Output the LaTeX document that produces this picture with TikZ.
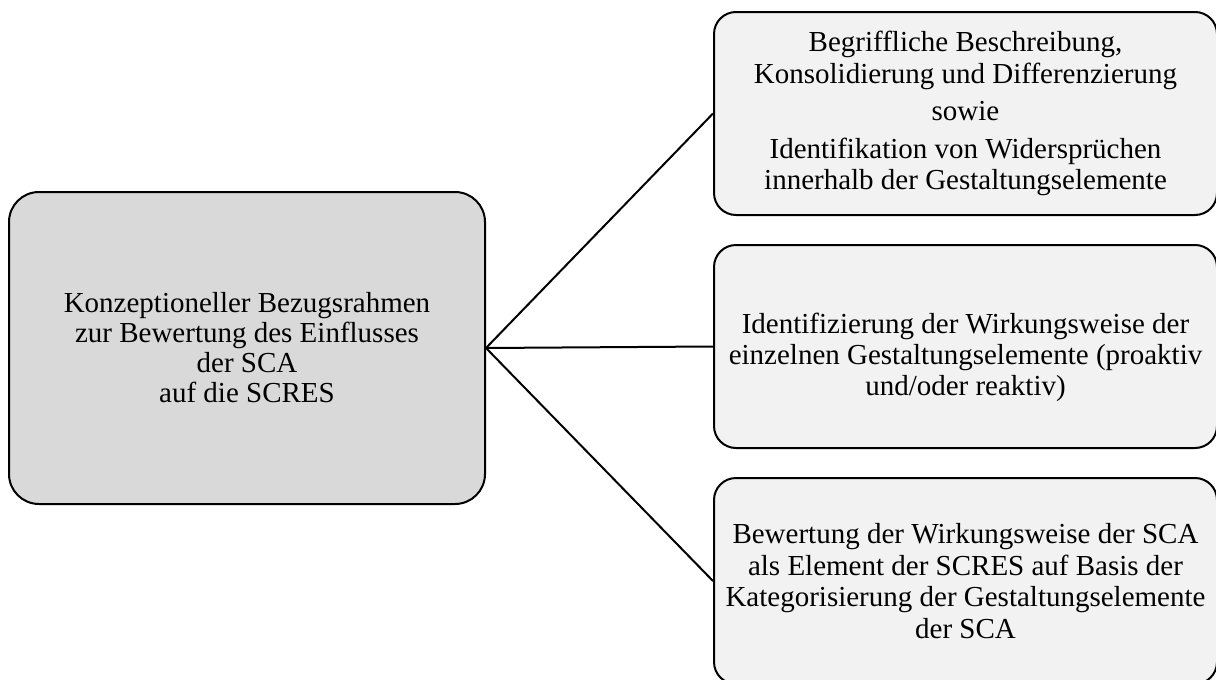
\documentclass[tikz,border=0pt]{standalone}
\usepackage{fontspec}
\setmainfont{Liberation Serif}
\definecolor{maingray}{HTML}{D9D9D9}
\definecolor{lightgray2}{HTML}{F2F2F2}
\begin{document}
\begin{tikzpicture}[x=1pt,y=-1pt,
  mainbox/.style={draw=black, line width=2pt, fill=maingray, rounded corners=30pt,
    minimum width=476pt, minimum height=312pt, align=center, inner sep=0pt,
    font=\fontsize{29}{30}\selectfont},
  sidebox/.style={draw=black, line width=2pt, fill=lightgray2, rounded corners=22pt,
    minimum width=503pt, minimum height=203pt, align=center, inner sep=0pt,
    font=\fontsize{29}{31.5}\selectfont},
  boxtext/.style={align=center, inner sep=0pt, font=\fontsize{29}{31}\selectfont},
  link/.style={draw=black, line width=2pt}]
\useasboundingbox (0,0) rectangle (1216,680);
\begin{scope}
\clip (0,0) rectangle (1216,680);
\node[mainbox] (main) at (247,348) {Konzeptioneller Bezugsrahmen\\zur Bewertung des Einflusses\\der SCA\\auf die SCRES};
\node[sidebox] (b1) at (965.5,113.5) {Begriffliche Beschreibung,\\Konsolidierung und Differenzierung\\[6pt]sowie\\[6pt]Identifikation von Widersprüchen\\innerhalb der Gestaltungselemente};
\node[sidebox] (b2) at (965.5,346.5) {};
\node[boxtext] (b2t) at ([yshift=-11pt]b2.center) {Identifizierung der Wirkungsweise der\\einzelnen Gestaltungselemente (proaktiv\\und/oder reaktiv)};
\node[sidebox, minimum height=206pt] (b3) at (965.5,581) {Bewertung der Wirkungsweise der SCA\\als Element der SCRES auf Basis der\\Kategorisierung der Gestaltungselemente\\der SCA};
\draw[link] (main.east) -- (b1.west);
\draw[link] (main.east) -- (b2.west);
\draw[link] (main.east) -- (b3.west);
\end{scope}
\end{tikzpicture}
\end{document}
